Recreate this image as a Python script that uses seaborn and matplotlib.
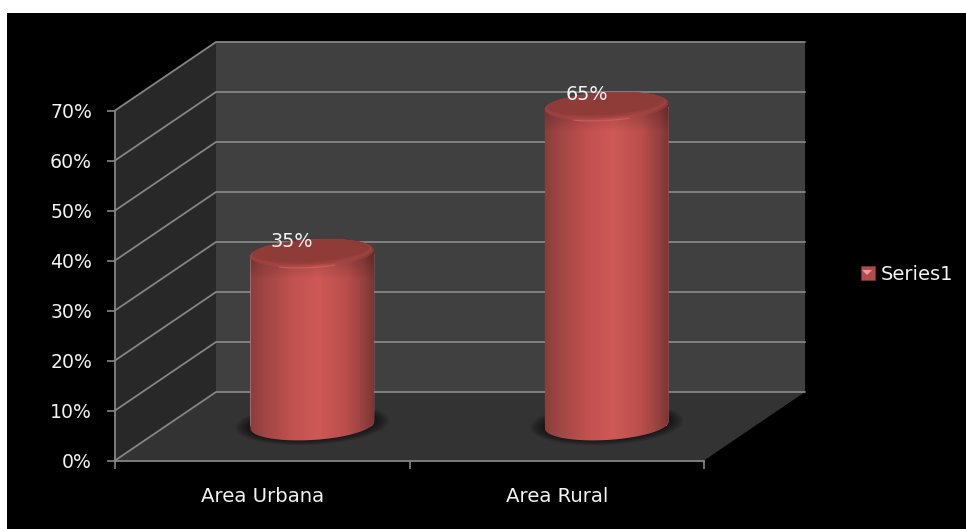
import numpy as np
import pandas as pd
import matplotlib
matplotlib.use("Agg")
import matplotlib.pyplot as plt
import seaborn as sns
from matplotlib.colors import LinearSegmentedColormap
from matplotlib.patches import Polygon, Rectangle, Patch

categories = ["Area Urbana", "Area Rural"]
values = [35, 65]
series_name = "Series1"
y_ticks = [0, 10, 20, 30, 40, 50, 60, 70]
y_labels = ["0%", "10%", "20%", "30%", "40%", "50%", "60%", "70%"]

W, H = 966, 529
sns.set_theme(style="dark")
plt.rcParams["font.family"] = ["DejaVu Sans"]

GRID = "#858585"
TXT = "#f2f2f2"
fig = plt.figure(figsize=(W / 100, H / 100), dpi=100, facecolor="white")
fig.add_artist(Rectangle((7 / W, 0), 1, 1 - 13 / H, transform=fig.transFigure,
                         facecolor="black", edgecolor="none", zorder=-10))


def axes_px(left, right, top, bottom):
    return [left / W, 1 - bottom / H, (right - left) / W, (bottom - top) / H]


# front plane of the 3-D box
ax = fig.add_axes(axes_px(115, 704, 110.5, 460.5), facecolor="none")
ax.set_xlim(-0.5, 1.5)
ax.set_ylim(0, 70)
DX = 101 / 294.5   # depth of the box in x units
DY = 68.5 / 5      # depth of the box in y units
XL, XR, YT = -0.5, 1.5, 70

ax.add_patch(Polygon([(XL + DX, DY), (XR + DX, DY), (XR + DX, YT + DY), (XL + DX, YT + DY)],
                     closed=True, fc="#404040", ec="none", clip_on=False, zorder=1))
ax.add_patch(Polygon([(XL, 0), (XL + DX, DY), (XL + DX, YT + DY), (XL, YT)],
                     closed=True, fc="#282828", ec="none", clip_on=False, zorder=1))
ax.add_patch(Polygon([(XL, 0), (XR, 0), (XR + DX, DY), (XL + DX, DY)],
                     closed=True, fc="#333333", ec="none", clip_on=False, zorder=1))
for v in y_ticks:
    ax.plot([XL, XL + DX, XR + DX], [v, v + DY, v + DY], color=GRID, lw=1.3,
            clip_on=False, zorder=2, solid_joinstyle="miter")

for s in ax.spines.values():
    s.set_visible(False)
for side in ("left", "bottom"):
    ax.spines[side].set_visible(True)
    ax.spines[side].set_color(GRID)
    ax.spines[side].set_linewidth(1.3)
ax.set_yticks(y_ticks, y_labels)
ax.set_xticks([-0.5, 0.5, 1.5], ["", "", ""])
ax.set_xticks([0, 1], categories, minor=True)
ax.tick_params(axis="both", which="major", length=5.5, width=1.2, color=GRID, left=True, bottom=True)
ax.tick_params(axis="y", labelsize=13.6, labelcolor=TXT, pad=11)
ax.tick_params(axis="x", which="minor", length=0, labelsize=14.2, labelcolor=TXT, pad=19)

# mid-depth plane holding the cylinders
ax2 = fig.add_axes(axes_px(165, 754, 82, 425), facecolor="none")
df = pd.DataFrame({"category": categories, "value": values})
sns.barplot(data=df, x="category", y="value", color="#C05050", saturation=1,
            width=0.42, ax=ax2, zorder=3)
ax2.set_xlim(-0.5, 1.5)
ax2.set_ylim(0, 70)
ax2.axis("off")

body_cmap = LinearSegmentedColormap.from_list(
    "body", [(0, "#8C3D3B"), (0.12, "#A04644"), (0.35, "#C25250"), (0.55, "#CF5957"),
             (0.78, "#B94E4C"), (0.92, "#96413F"), (1, "#7B3533")])
rim_cmap = LinearSegmentedColormap.from_list(
    "rim", [(0, "#8A3B39"), (0.25, "#A84845"), (0.55, "#B94F4C"), (0.8, "#A04441"), (1, "#853936")])
grad = np.linspace(0, 1, 256).reshape(1, -1)

BW = 0.42
PX = 343 / 70          # pixels per y unit in the mid plane
TILT = 3.5 / PX


def ring(cx, cy, a, b, t0=0.0, t1=2 * np.pi, n=120, tilt=TILT):
    t = np.linspace(t0, t1, n)
    return np.column_stack([cx + a * np.cos(t), cy + b * np.sin(t) + tilt * np.cos(t)])


for i, (bar, v) in enumerate(zip(ax2.patches, values)):
    a = BW / 2
    b_top, b_bot = 14 / PX, 15 / PX
    # soft contact shadow on the floor
    for k in np.linspace(1, 0, 10):
        ax2.add_patch(Polygon(ring(i, 0.2, a + k * 15 / 294.5, b_bot + k * 6 / PX),
                              closed=True, fc="black", ec="none", alpha=0.07,
                              clip_on=False, zorder=1))
    # cylinder body
    outline = np.vstack([ring(i, 0, a, b_bot, np.pi, 2 * np.pi), ring(i, v, a, b_top, 0, np.pi)])
    body = Polygon(outline, closed=True, fc="none", ec="none", transform=ax2.transData)
    ax2.add_patch(body)
    body.set_clip_on(False)
    bar.set_clip_box(fig.bbox)
    bar.set_clip_path(body)
    im = ax2.imshow(grad, extent=(i - a, i + a, -5, v + 5), aspect="auto", cmap=body_cmap,
                    zorder=3.5, interpolation="bilinear")
    im.set_clip_box(fig.bbox)
    im.set_clip_path(body)
    # darkening just below the rim
    fade = np.zeros((2, 2, 4))
    fade[0, :, 3] = 0.22
    im3 = ax2.imshow(fade, extent=(i - a, i + a, v - 8, v + 3), aspect="auto", zorder=3.6,
                     interpolation="bilinear")
    im3.set_clip_path(body)
    # top cap: bevel rim and inner surface
    rim = Polygon(ring(i, v, a, b_top), closed=True, fc="none", ec="none")
    ax2.add_patch(rim)
    im2 = ax2.imshow(grad, extent=(i - a, i + a, v - 5, v + 5), aspect="auto",
                     cmap=rim_cmap, zorder=4, interpolation="bilinear")
    im2.set_clip_path(rim)
    for step, col in enumerate(["#A04442", "#983F3D", "#8F3C39"]):
        s = step / 2
        ax2.add_patch(Polygon(ring(i - 0.004, v + (1.2 + 1.6 * s) / PX, a - (0.004 + 0.008 * s),
                                  b_top - (1.2 + 1.8 * s) / PX),
                              closed=True, fc=col, ec="none", zorder=4.2 + step / 100))
    ax2.plot(*ring(i, v, a - 0.002, b_top, 1.32 * np.pi, 1.62 * np.pi).T,
             color="#DE6A66", lw=0.9, alpha=0.55, zorder=4.3, clip_on=False)
    ax2.annotate(f"{v}%", (i, v), xytext=(-14.5, 8.5), textcoords="offset points",
                 ha="center", va="center", color=TXT, fontsize=13.9, zorder=6)

ax2.set_xlim(-0.5, 1.5)
ax2.set_ylim(0, 70)
ax2.set_aspect("auto")

handle = Patch(facecolor="#B04C4A", edgecolor="#7B3533", linewidth=0.5, label=series_name)
fig.legend(handles=[handle], loc="center left", bbox_to_anchor=(855 / W, 1 - 274.5 / H),
           frameon=False, fontsize=14, labelcolor=TXT, handlelength=0.72, handleheight=0.72,
           handletextpad=0.32, borderpad=0.3, borderaxespad=0)
fig.add_artist(Polygon([(862 / W, 1 - 270 / H), (872 / W, 1 - 270 / H), (867 / W, 1 - 275 / H)],
                       closed=True, transform=fig.transFigure, fc="#E59A98", ec="none", zorder=10))

fig.savefig("out.png", dpi=100, facecolor=fig.get_facecolor())
